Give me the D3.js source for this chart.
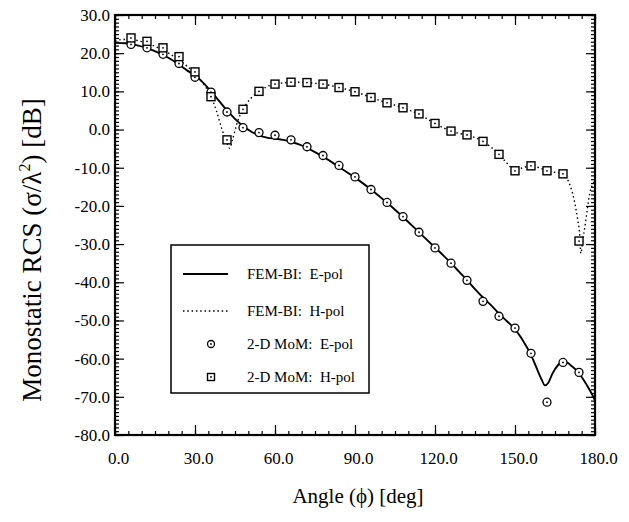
<!DOCTYPE html>
<html>
<head>
<meta charset="utf-8">
<script src="https://cdn.jsdelivr.net/npm/d3@7"></script>
<style>
  body { margin: 0; background: #fff; }
  text { font-family: "Liberation Serif", "Times New Roman", serif; fill: #000; }
</style>
</head>
<body>
<svg id="chart" width="629" height="522"></svg>
<script>
// FEM-BI curves
const feAngleE = [0, 4, 8, 12, 16, 20, 24, 27, 30, 33, 36, 39, 42, 45, 48, 51, 54, 57, 60, 63, 66, 69, 72, 75, 78, 81, 84, 87, 90,
  93, 96, 99, 102, 105, 108, 111, 114, 117, 120, 123, 126, 129, 132, 135, 138, 141, 144, 147, 150,
  152, 154, 156, 158, 160, 161.2, 162.5, 164, 166, 168, 169.5, 171, 173, 175, 177, 179, 180];
const feE = [22.7, 22.6, 22.1, 21.3, 20.2, 18.8, 17.0, 15.5, 14.2, 12.3, 10.0, 7.5, 5.0, 2.8, 0.9, -0.5, -1.5, -2.1, -2.4, -2.7, -3.2, -3.9, -4.8, -5.9, -7.1, -8.4, -9.8, -11.2, -12.6,
  -14.1, -15.7, -17.4, -19.2, -21.0, -22.9, -24.9, -26.9, -28.9, -30.9, -32.9, -35.0, -37.2, -39.4, -41.8, -44.0, -46.0, -48.2, -50.2, -52.3,
  -54.2, -56.5, -59.0, -62.3, -65.5, -67.0, -66.3, -64.0, -61.8, -60.9, -61.0, -61.8, -63.0, -64.8, -67.0, -69.5, -71.0];

const feAngleH = [0, 3, 6, 9, 12, 15, 18, 21, 24, 27, 30, 33, 36, 38, 40, 42, 43, 44, 46, 48, 51, 54, 57, 60, 63, 66, 69, 72, 75, 78, 81, 84, 87, 90,
  93, 96, 99, 102, 105, 108, 111, 114, 117, 120, 123, 126, 129, 132, 135, 138, 141, 144, 147, 150, 153, 156, 159, 162, 165, 168,
  170, 171.5, 172.5, 173.5, 174.2, 174.7, 175.5, 176.2, 177, 178, 179, 180];
const feH = [23.2, 23.6, 23.6, 23.2, 22.6, 21.8, 20.8, 19.6, 18.2, 16.6, 14.7, 12.2, 8.6, 5.0, 0.3, -3.5, -4.9, -2.8, 2.2, 5.3, 8.2, 10.0, 11.2, 11.9, 12.2, 12.4, 12.4, 12.3, 12.1, 11.9, 11.5, 11.0, 10.5, 9.9,
  9.2, 8.4, 7.7, 7.0, 6.4, 5.7, 4.9, 4.0, 2.8, 1.6, 0.5, -0.4, -1.0, -1.4, -2.1, -3.1, -4.6, -6.5, -8.8, -10.6, -10.0, -9.5, -10.0, -10.8, -11.2, -11.6,
  -13.5, -16.5, -19.5, -23.5, -27.0, -32.4, -28.5, -25.5, -21.5, -16.8, -14.5, -13.5];

// 2-D MoM samples
const momAngle = [6, 12, 18, 24, 30, 36, 42, 48, 54, 60, 66, 72, 78, 84, 90, 96, 102, 108, 114, 120, 126, 132, 138, 144, 150, 156, 162, 168, 174];
const momE = [22.3, 21.4, 19.7, 17.3, 13.7, 9.8, 4.6, 0.5, -0.8, -1.5, -2.7, -4.5, -6.8, -9.4, -12.4, -15.7, -19.1, -22.8, -26.9, -31.0, -35.0, -39.5, -45.0, -48.9, -52.0, -58.6, -71.4, -61.0, -63.6];
const momH = [24.0, 23.1, 21.4, 19.1, 15.1, 8.6, -2.7, 5.3, 10.0, 11.9, 12.4, 12.3, 11.9, 11.0, 9.9, 8.4, 7.0, 5.7, 4.1, 1.6, -0.4, -1.4, -3.1, -6.5, -10.8, -9.5, -10.8, -11.6, -29.2];

const xTicks = [0, 30, 60, 90, 120, 150, 180];
const yTicks = [-80, -70, -60, -50, -40, -30, -20, -10, 0, 10, 20, 30];
const xMinor = [0, 5, 10, 15, 20, 25, 30, 35, 40, 45, 50, 55, 60, 65, 70, 75, 80, 85, 90, 95, 100, 105, 110, 115, 120, 125, 130, 135, 140, 145, 150, 155, 160, 165, 170, 175, 180];

const legendItems = [
  { label: "FEM-BI:  E-pol", kind: "solid" },
  { label: "FEM-BI:  H-pol", kind: "dotted" },
  { label: "2-D MoM:  E-pol", kind: "circle" },
  { label: "2-D MoM:  H-pol", kind: "square" }
];

(() => {
  const svg = d3.select("#chart");
  const pLeft = 115, pRight = 595, pTop = 15, pBottom = 435;
  const serif = "'Liberation Serif', 'Times New Roman', serif";

  const x = d3.scaleLinear().domain([0, 180]).range([pLeft, pRight]);
  const y = d3.scaleLinear().domain([-80, 30]).range([pBottom, pTop]);

  // minor y ticks every dB
  const yMinor = d3.range(-80, 31, 1);

  function tickStyle(g) {
    g.attr("font-family", serif).attr("font-size", 17);
    g.select(".domain").remove();
    g.selectAll(".tick line").attr("stroke", "#000").attr("stroke-width", 1.2);
  }

  // bottom axis
  svg.append("g").attr("transform", `translate(0,${pBottom})`)
    .call(d3.axisBottom(x).tickValues(xMinor).tickSize(-4).tickFormat(""))
    .call(tickStyle);
  svg.append("g").attr("transform", `translate(0,${pBottom})`)
    .call(d3.axisBottom(x).tickValues(xTicks).tickSize(-10).tickPadding(17).tickFormat(d => d.toFixed(1)))
    .call(tickStyle)
    .call(g => g.selectAll("text").attr("dx", 3));

  // top axis
  svg.append("g").attr("transform", `translate(0,${pTop})`)
    .call(d3.axisTop(x).tickValues(xMinor).tickSize(-4).tickFormat(""))
    .call(tickStyle);
  svg.append("g").attr("transform", `translate(0,${pTop})`)
    .call(d3.axisTop(x).tickValues(xTicks).tickSize(-10).tickFormat(""))
    .call(tickStyle);

  // left axis
  svg.append("g").attr("transform", `translate(${pLeft},0)`)
    .call(d3.axisLeft(y).tickValues(yMinor).tickSize(-4).tickFormat(""))
    .call(tickStyle);
  svg.append("g").attr("transform", `translate(${pLeft},0)`)
    .call(d3.axisLeft(y).tickValues(yTicks).tickSize(-9).tickPadding(5).tickFormat(d => d.toFixed(1)))
    .call(tickStyle);

  // right axis
  svg.append("g").attr("transform", `translate(${pRight},0)`)
    .call(d3.axisRight(y).tickValues(yMinor).tickSize(-4).tickFormat(""))
    .call(tickStyle);
  svg.append("g").attr("transform", `translate(${pRight},0)`)
    .call(d3.axisRight(y).tickValues(yTicks).tickSize(-9).tickFormat(""))
    .call(tickStyle);

  // frame
  svg.append("rect")
    .attr("x", pLeft).attr("y", pTop)
    .attr("width", pRight - pLeft).attr("height", pBottom - pTop)
    .attr("fill", "none").attr("stroke", "#000").attr("stroke-width", 2.2);

  // curves
  const line = d3.line()
    .x(d => x(d[0]))
    .y(d => y(d[1]))
    .curve(d3.curveMonotoneX);

  svg.append("path")
    .attr("d", line(feAngleH.map((a, i) => [a, feH[i]])))
    .attr("fill", "none").attr("stroke", "#000")
    .attr("stroke-width", 1.4).attr("stroke-dasharray", "1.5 2.8");

  svg.append("path")
    .attr("d", line(feAngleE.map((a, i) => [a, feE[i]])))
    .attr("fill", "none").attr("stroke", "#000")
    .attr("stroke-width", 1.9);

  // markers
  function drawCircle(g, cx, cy, r) {
    g.append("circle").attr("cx", cx).attr("cy", cy).attr("r", r)
      .attr("fill", "#fff").attr("stroke", "#000").attr("stroke-width", 1.3);
    g.append("circle").attr("cx", cx).attr("cy", cy).attr("r", 0.9).attr("fill", "#000");
  }
  function drawSquare(g, cx, cy, s) {
    g.append("rect").attr("x", cx - s / 2).attr("y", cy - s / 2).attr("width", s).attr("height", s)
      .attr("fill", "#fff").attr("stroke", "#000").attr("stroke-width", 1.4);
    g.append("circle").attr("cx", cx).attr("cy", cy).attr("r", 0.9).attr("fill", "#000");
  }

  const mk = svg.append("g");
  momAngle.forEach((a, i) => drawCircle(mk, x(a), y(momE[i]), 4));
  momAngle.forEach((a, i) => drawSquare(mk, x(a), y(momH[i]), 8));

  // legend
  const lg = svg.append("g");
  lg.append("rect")
    .attr("x", 171).attr("y", 245).attr("width", 198).attr("height", 148)
    .attr("fill", "#fff").attr("stroke", "#000").attr("stroke-width", 1.5);

  const rowY = [274, 311, 344, 377];
  legendItems.forEach((it, i) => {
    const cy = rowY[i];
    if (it.kind === "solid") {
      lg.append("line").attr("x1", 183).attr("x2", 228).attr("y1", cy).attr("y2", cy)
        .attr("stroke", "#000").attr("stroke-width", 1.8);
    } else if (it.kind === "dotted") {
      lg.append("line").attr("x1", 183).attr("x2", 228).attr("y1", cy).attr("y2", cy)
        .attr("stroke", "#000").attr("stroke-width", 1.4).attr("stroke-dasharray", "1.5 2.8");
    } else if (it.kind === "circle") {
      drawCircle(lg, 211, cy, 3.5);
    } else {
      drawSquare(lg, 211, cy, 7);
    }
    lg.append("text")
      .attr("x", 247).attr("y", cy + 5)
      .style("font-size", "15px")
      .style("white-space", "pre")
      .text(it.label);
  });

  // axis titles
  svg.append("text")
    .attr("x", 358).attr("y", 503)
    .attr("text-anchor", "middle")
    .style("font-size", "21px")
    .text("Angle (\u03d5) [deg]");

  const yt = svg.append("text")
    .attr("transform", "translate(41,250) rotate(-90)")
    .attr("text-anchor", "middle")
    .style("font-size", "27px");
  yt.append("tspan").text("Monostatic RCS (\u03c3/\u03bb");
  yt.append("tspan").attr("dy", -11).style("font-size", "16px").text("2");
  yt.append("tspan").attr("dy", 11).text(") [dB]");
})();
</script>
</body>
</html>
